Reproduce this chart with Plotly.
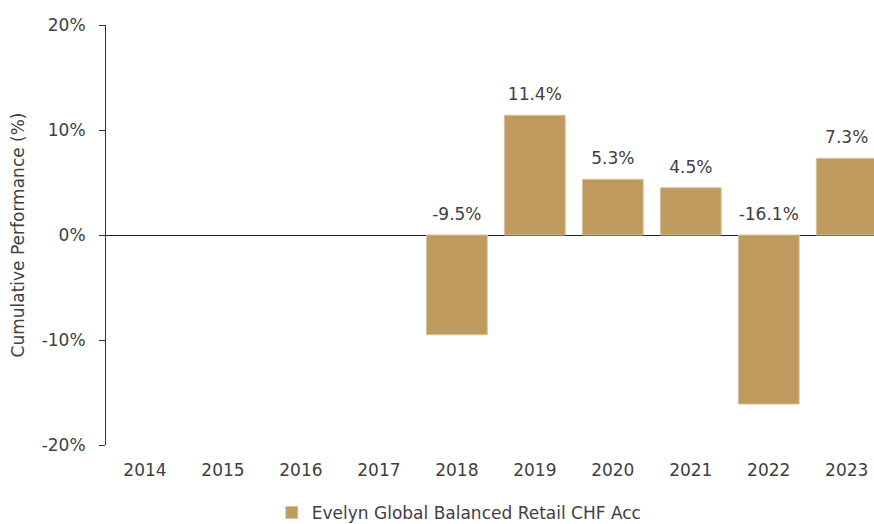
import plotly.graph_objects as go

years = ["2014", "2015", "2016", "2017", "2018", "2019", "2020", "2021", "2022", "2023"]
perf = [None, None, None, None, -9.5, 11.4, 5.3, 4.5, -16.1, 7.3]
series_name = "Evelyn Global Balanced Retail CHF Acc"
y_ticks = [-20, -10, 0, 10, 20]
y_tick_text = ["-20%", "-10%", "0%", "10%", "20%"]

BAR = "#BE9A5E"
TXT = "#404040"
FONT = "DejaVu Sans"
FS = 17

lab_x = [yr for yr, v in zip(years, perf) if v is not None]
lab_y = [max(v, 0) for v in perf if v is not None]
lab_t = [f"{v:.1f}%" for v in perf if v is not None]

fig = go.Figure()
fig.add_trace(go.Bar(
    x=years, y=perf, name=series_name,
    marker=dict(color=BAR, line=dict(color="#D9C39A", width=1)),
    width=0.78, showlegend=True,
))
fig.add_trace(go.Scatter(
    x=lab_x, y=lab_y, text=lab_t, mode="markers+text", textposition="top center",
    marker=dict(size=16, opacity=0), showlegend=False, hoverinfo="skip",
    textfont=dict(family=FONT, size=FS, color=TXT), cliponaxis=False,
))

fig.update_layout(
    width=874, height=524,
    margin=dict(l=106, r=0, t=25, b=79, autoexpand=False),
    plot_bgcolor="white", paper_bgcolor="white",
    font=dict(family=FONT, size=FS, color=TXT),
    legend=dict(orientation="h", x=0.46, xanchor="center",
                yref="container", y=0.021, yanchor="middle",
                font=dict(family=FONT, size=FS, color=TXT)),
    xaxis=dict(
        type="category", automargin=False,
        range=[-0.5, 9.35], showline=False, showgrid=False, ticks="",
        ticklabelstandoff=13,
        tickfont=dict(family=FONT, size=FS, color=TXT),
    ),
    yaxis=dict(
        automargin=False,
        range=[-20, 20], tickmode="array", tickvals=y_ticks, ticktext=y_tick_text,
        showline=True, linecolor="#333333", linewidth=1,
        ticks="outside", ticklen=6, tickcolor="#333333",
        ticklabelstandoff=10,
        showgrid=False, zeroline=True, zerolinecolor="#222222", zerolinewidth=1,
        title=dict(text="Cumulative Performance (%)", standoff=12,
                   font=dict(family=FONT, size=FS, color=TXT)),
        tickfont=dict(family=FONT, size=FS, color=TXT),
    ),
)

fig.write_html("out.html")
